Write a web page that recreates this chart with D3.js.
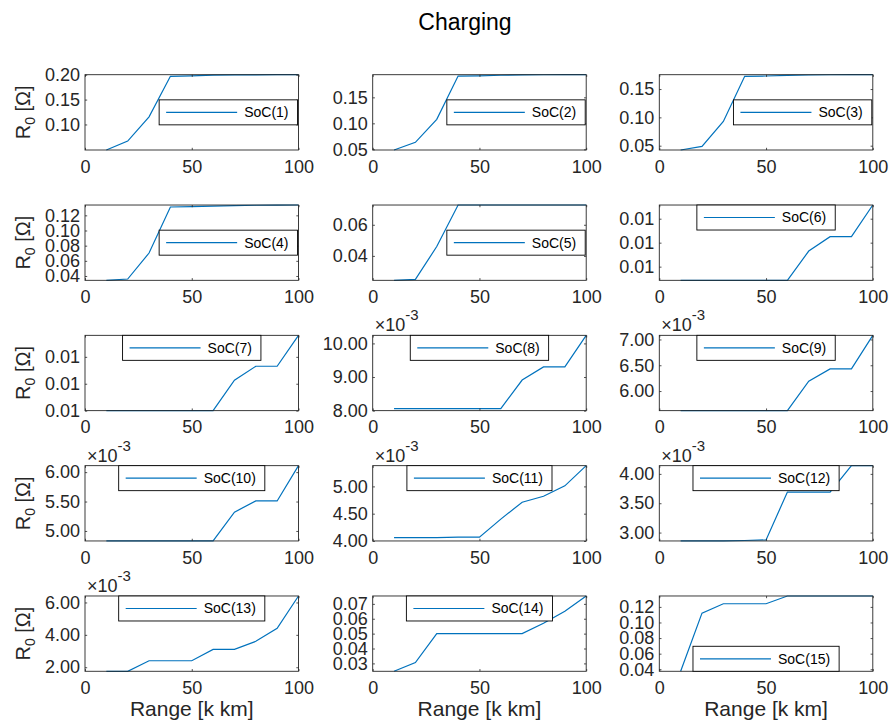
<!DOCTYPE html>
<html>
<head>
<meta charset="utf-8">
<script src="https://cdn.jsdelivr.net/npm/d3@7"></script>
<style>
  html, body { margin: 0; padding: 0; background: #fff; }
  svg { display: block; font-family: "Liberation Sans", Arial, Helvetica, sans-serif; }
</style>
</head>
<body>
<svg id="chart" width="892" height="722"></svg>
<script>
// ---------------- DATA ----------------
const rangeKkm = [10, 20, 30, 40, 50, 60, 70, 80, 90, 100];
const xTicks = [0, 50, 100];
const seriesNames = ["SoC(1)","SoC(2)","SoC(3)","SoC(4)","SoC(5)","SoC(6)","SoC(7)","SoC(8)",
                     "SoC(9)","SoC(10)","SoC(11)","SoC(12)","SoC(13)","SoC(14)","SoC(15)"];
const soc1  = [0.0487, 0.0667, 0.1153, 0.1967, 0.1975, 0.1990, 0.1995, 0.1998, 0.2000, 0.2000];
const soc2  = [0.0487, 0.0635, 0.1077, 0.1910, 0.1915, 0.1925, 0.1932, 0.1935, 0.1936, 0.1936];
const soc3  = [0.0424, 0.0488, 0.0929, 0.1724, 0.1730, 0.1740, 0.1748, 0.1752, 0.1753, 0.1753];
const soc4  = [0.0343, 0.0360, 0.0703, 0.1310, 0.1315, 0.1322, 0.1328, 0.1333, 0.1335, 0.1336];
const soc5  = [0.0243, 0.0249, 0.0460, 0.0727, 0.0727, 0.0727, 0.0727, 0.0727, 0.0727, 0.0727];
const soc6  = [0.01043, 0.01043, 0.01043, 0.01043, 0.01043, 0.01043, 0.01165, 0.01225, 0.01225, 0.01357];
const soc7  = [0.01000, 0.01000, 0.01000, 0.01000, 0.01000, 0.01000, 0.01113, 0.01165, 0.01165, 0.01280];
const soc8  = [0.00806, 0.00806, 0.00806, 0.00806, 0.00806, 0.00806, 0.00891, 0.00930, 0.00930, 0.01024];
const soc9  = [0.00562, 0.00562, 0.00562, 0.00562, 0.00562, 0.00562, 0.00619, 0.00643, 0.00643, 0.00708];
const soc10 = [0.00483, 0.00483, 0.00483, 0.00483, 0.00483, 0.00483, 0.00532, 0.00551, 0.00551, 0.00611];
const soc11 = [0.00406, 0.00406, 0.00406, 0.00407, 0.00407, 0.00440, 0.00471, 0.00482, 0.00501, 0.00538];
const soc12 = [0.002857, 0.002857, 0.002860, 0.002865, 0.002875, 0.00369, 0.00369, 0.00369, 0.00414, 0.00414];
const soc13 = [0.00175, 0.00175, 0.00240, 0.00240, 0.00240, 0.00310, 0.00310, 0.00360, 0.00440, 0.00640];
const soc14 = [0.0247, 0.0306, 0.0500, 0.0500, 0.0500, 0.0500, 0.0500, 0.0570, 0.0650, 0.0753];
const soc15 = [0.0374, 0.1120, 0.1240, 0.1240, 0.1240, 0.1340, 0.1340, 0.1340, 0.1340, 0.1340];
const allSeries = [soc1, soc2, soc3, soc4, soc5, soc6, soc7, soc8, soc9, soc10, soc11, soc12, soc13, soc14, soc15];

// y tick values per subplot
const yTicks = [
  [0.10, 0.15, 0.20],
  [0.05, 0.10, 0.15],
  [0.05, 0.10, 0.15],
  [0.04, 0.06, 0.08, 0.10, 0.12],
  [0.04, 0.06],
  [0.011, 0.012, 0.013],
  [0.010, 0.011, 0.012],
  [0.008, 0.009, 0.010],
  [0.0060, 0.0065, 0.0070],
  [0.0050, 0.0055, 0.0060],
  [0.0040, 0.0045, 0.0050],
  [0.0030, 0.0035, 0.0040],
  [0.002, 0.004, 0.006],
  [0.03, 0.04, 0.05, 0.06, 0.07],
  [0.04, 0.06, 0.08, 0.10, 0.12]
];
// exponent multiplier shown (×10^-3) per subplot: 0 means none
const yExponent = [0,0,0,0,0,0,0,-3,-3,-3,-3,-3,-3,0,0];
const legendLoc = ["east","east","east","east","east","north","north","north","north","north","north","north","north","north","south"];

const titleText = "Charging";
const xLabelText = "Range [k km]";

// ---------------- LAYOUT ----------------
const svg = d3.select("#chart");
const colLeft = [85, 372.7, 659.3];
const axW = 213.5;
const rowTop0 = 74.7, rowStep = 130.32, axH = 75.3;
const blue = "#0072BD";
const axisCol = "#262626";
const tickFont = 18;

svg.append("text")
  .attr("x", 465).attr("y", 30)
  .attr("text-anchor", "middle")
  .attr("font-size", 23)
  .attr("fill", "#000")
  .text(titleText);

allSeries.forEach((vals, i) => {
  const row = Math.floor(i / 3), col = i % 3;
  const left = colLeft[col], top = rowTop0 + row * rowStep;
  const g = svg.append("g").attr("transform", `translate(${left},${top})`);

  const ext = d3.extent(vals.concat([d3.min(yTicks[i]) < d3.min(vals) ? d3.min(yTicks[i]) : d3.min(vals)]));
  const x = d3.scaleLinear().domain([0, 100]).range([0, axW]);
  const y = d3.scaleLinear().domain(ext).range([axH, 0]);

  const exp = yExponent[i];
  const fmt = v => exp ? (v / Math.pow(10, exp)).toFixed(2) : v.toFixed(2);

  // line
  const line = d3.line().x((d, k) => x(rangeKkm[k])).y(d => y(d));
  g.append("path").datum(vals)
    .attr("d", line)
    .attr("fill", "none")
    .attr("stroke", blue)
    .attr("stroke-width", 1.2);

  // axes (ticks inward)
  const tk = -2.2;
  const ax = [
    d3.axisBottom(x).tickValues(xTicks).tickSizeInner(tk).tickSizeOuter(0).tickPadding(10),
    d3.axisTop(x).tickValues(xTicks).tickSizeInner(tk).tickSizeOuter(0).tickFormat(""),
    d3.axisLeft(y).tickValues(yTicks[i]).tickSizeInner(tk).tickSizeOuter(0).tickPadding(5).tickFormat(fmt),
    d3.axisRight(y).tickValues(yTicks[i]).tickSizeInner(tk).tickSizeOuter(0).tickFormat("")
  ];
  const tr = [`translate(0,${axH})`, `translate(0,0)`, `translate(0,0)`, `translate(${axW},0)`];
  ax.forEach((a, k) => {
    const ag = g.append("g").attr("transform", tr[k]).call(a);
    ag.select(".domain").remove();
    ag.selectAll("line").attr("stroke", axisCol).attr("stroke-width", 0.8);
    ag.selectAll("text").attr("fill", axisCol).attr("font-size", tickFont)
      .attr("font-family", '"Liberation Sans", Arial, sans-serif');
  });

  g.append("rect")
    .attr("x", 0).attr("y", 0).attr("width", axW).attr("height", axH)
    .attr("fill", "none").attr("stroke", axisCol).attr("stroke-width", 0.9);

  // exponent label
  if (exp) {
    const t = g.append("text").attr("x", 2).attr("y", -4)
      .attr("fill", axisCol).attr("font-size", tickFont);
    t.append("tspan").text("\u00D710");
    t.append("tspan").attr("dy", -11).attr("font-size", 15).text(String(exp));
  }

  // legend
  const lg = g.append("g");
  const txt = lg.append("text").attr("font-size", 14).attr("fill", "#000").text(seriesNames[i]);
  const tw = txt.node().getComputedTextLength();
  const lw = 85 + tw + 9, lh = 25;
  let lx, ly;
  if (legendLoc[i] === "east") { lx = axW - 1 - lw; ly = (axH - lh) / 2; }
  else if (legendLoc[i] === "north") { lx = (axW - lw) / 2; ly = 0; }
  else { lx = (axW - lw) / 2; ly = axH - lh; }
  lg.attr("transform", `translate(${lx},${ly})`);
  lg.insert("rect", "text").attr("x", 0).attr("y", 0).attr("width", lw).attr("height", lh)
    .attr("fill", "#fff").attr("stroke", "#000").attr("stroke-width", 0.9);
  lg.insert("line", "text").attr("x1", 7).attr("x2", 78).attr("y1", lh / 2).attr("y2", lh / 2)
    .attr("stroke", blue).attr("stroke-width", 1.2);
  txt.attr("x", 85).attr("y", lh / 2).attr("dy", "0.35em");

  // axis labels
  if (col === 0) {
    const yl = svg.append("text")
      .attr("transform", `translate(${30},${top + axH / 2}) rotate(-90)`)
      .attr("text-anchor", "middle")
      .attr("font-size", 20).attr("fill", axisCol);
    yl.append("tspan").text("R");
    yl.append("tspan").attr("font-size", 14).attr("dy", 5).text("0");
    yl.append("tspan").attr("dy", -5).text(" [\u03A9]");
  }
  if (row === 4) {
    svg.append("text")
      .attr("x", left + axW / 2).attr("y", top + axH + 45)
      .attr("text-anchor", "middle")
      .attr("font-size", 21).attr("fill", axisCol)
      .text(xLabelText);
  }
});
</script>
</body>
</html>
